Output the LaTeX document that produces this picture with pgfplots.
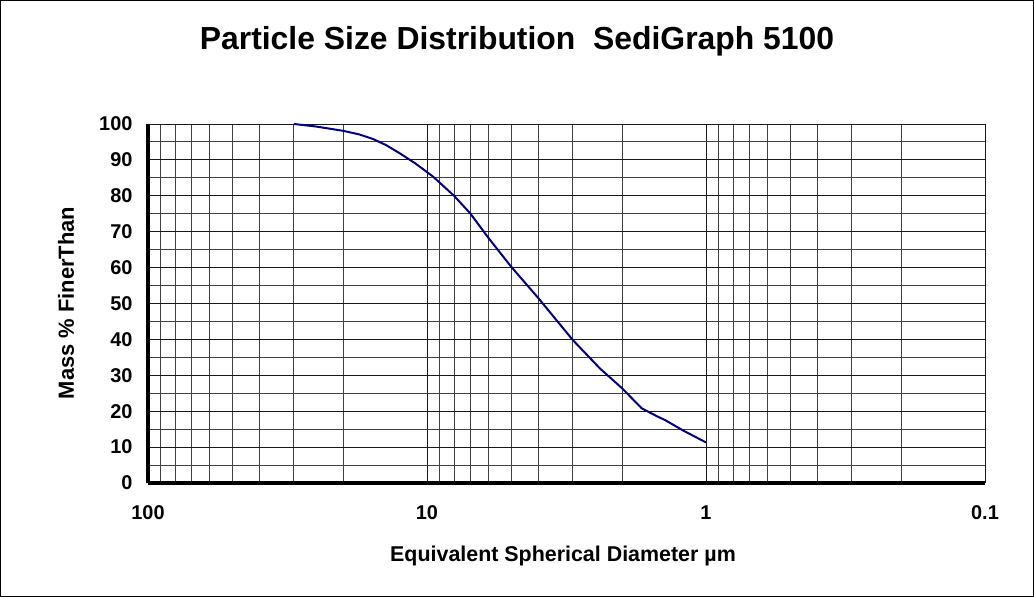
\documentclass[border=0pt]{standalone}
\usepackage{pgfplots}
\pgfplotsset{compat=1.18}
\usepackage{fontspec}
\setmainfont{Liberation Sans}
\definecolor{curve}{RGB}{0,0,128}
\begin{document}
\begin{tikzpicture}[x=1bp,y=1bp]
\draw[line width=1bp] (0.5,0.5) rectangle (1033.5,596.5);
\begin{axis}[
  at={(148bp,114bp)}, anchor=south west,
  scale only axis, width=837bp, height=359bp,
  xmode=log, x dir=reverse,
  xmin=0.1, xmax=100, ymin=0, ymax=100,
  xtick={100,10,1,0.1}, xticklabels={100,10,1,0.1},
  ytick={0,10,...,100},
  minor ytick={5,15,...,95},
  minor xtick={2,3,4,5,6,7,8,9,20,30,40,50,60,70,80,90,0.2,0.3,0.4,0.5,0.6,0.7,0.8,0.9},
  grid=both,
  major grid style={black!90, line width=0.9bp},
  minor grid style={black!75, line width=0.9bp},
  major tick length=0pt, minor tick length=0pt,
  axis line style={draw=none},
  /pgf/number format/assume math mode=true,
  tick label style={font=\bfseries\fontsize{20}{20}\selectfont},
  xticklabel style={anchor=center, yshift=-30bp, text height=14bp, text depth=0pt},
  yticklabel style={xshift=-12bp},
  clip=false,
]
\addplot[curve, line width=2bp, sharp plot] coordinates {
(30,100) (25,99.3) (20,98.1) (17.5,97.1) (15.6,95.8) (14,94.1) (12.5,91.8) (11,89) (9.5,85.3) (8,80) (7,75.1)
(6,68.1) (5,60.3) (4,51.6) (3,39.8) (2.4,31.9) (2,26.4) (1.7,20.8) (1.5,18.6) (1.4,17.5) (1.2,14.5) (1.0,11.3)
};
\draw[line width=4bp, black] (axis cs:100,0) -- (axis cs:0.1,0);
\draw[line width=4bp, black] (axis cs:100,0) -- (axis cs:100,100);
\end{axis}
\node[font=\bfseries\fontsize{32}{32}\selectfont] at (517,556) {Particle Size Distribution\ \ SediGraph 5100};
\node[font=\bfseries\fontsize{21.5}{21.5}\selectfont] at (563,41) {Equivalent Spherical Diameter µm};
\node[font=\bfseries\fontsize{22}{22}\selectfont, rotate=90] at (66,294) {Mass \% FinerThan};
\end{tikzpicture}
\end{document}
